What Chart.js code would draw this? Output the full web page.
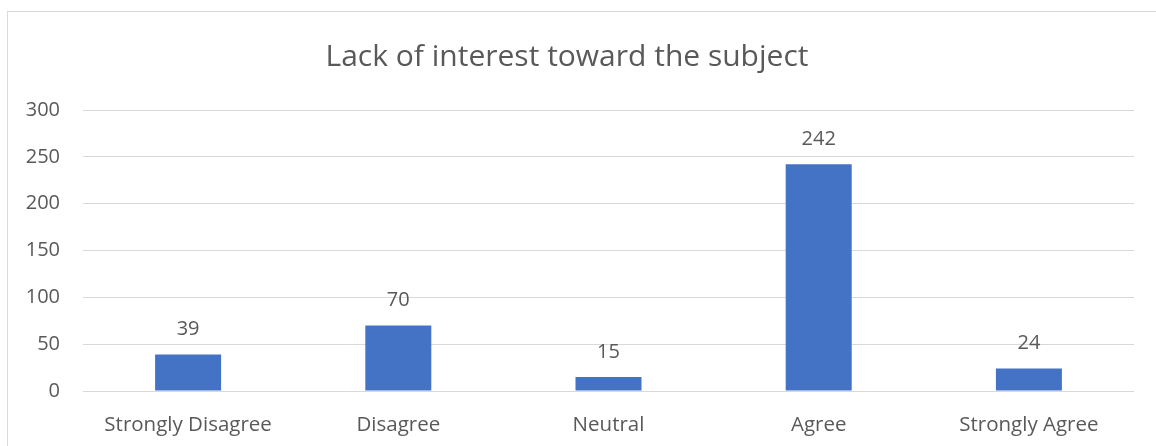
<!DOCTYPE html>
<html>
<head>
<meta charset="utf-8">
<title>Lack of interest toward the subject</title>
<script src="https://cdn.jsdelivr.net/npm/chart.js@4/dist/chart.umd.min.js"></script>
<style>
    html, body { margin: 0; padding: 0; background: #fff; overflow: hidden; }
    #wrap { position: relative; width: 1156px; height: 446px; }
    #frame {
        position: absolute; left: 7px; top: 11px; width: 1200px; height: 500px;
        border-top: 1px solid #d9d9d9; border-left: 1px solid #d9d9d9;
    }
    canvas { position: absolute; left: 0; top: 0; }
</style>
</head>
<body>
<div id="wrap">
    <div id="frame"></div>
    <canvas id="interestChart"></canvas>
</div>
<script>
const categories = ['Strongly Disagree', 'Disagree', 'Neutral', 'Agree', 'Strongly Agree'];
const responses = [39, 70, 15, 242, 24];
const yTicks = [0, 50, 100, 150, 200, 250, 300];

const TEXT_COLOR = '#595959';
const FONT = '"Open Sans", Lato, sans-serif';

// Writes the count above each bar
const valueLabels = {
    id: 'valueLabels',
    afterDatasetsDraw(chart) {
        const ctx = chart.ctx;
        const meta = chart.getDatasetMeta(0);
        ctx.save();
        ctx.font = '20px ' + FONT;
        ctx.fillStyle = TEXT_COLOR;
        ctx.textAlign = 'center';
        ctx.textBaseline = 'middle';
        meta.data.forEach((bar, i) => {
            ctx.fillText(String(responses[i]), bar.x, bar.y - 25);
        });
        ctx.restore();
    }
};

const ctx = document.getElementById('interestChart').getContext('2d');
new Chart(ctx, {
    type: 'bar',
    data: {
        labels: categories,
        datasets: [{
            data: responses,
            backgroundColor: '#4472c4',
            borderWidth: 0,
            categoryPercentage: 1,
            barPercentage: 0.314
        }]
    },
    options: {
        responsive: true,
        maintainAspectRatio: false,
        animation: false,
        layout: { padding: { left: 0, right: 22, top: 0, bottom: 0 } },
        plugins: {
            legend: { display: false },
            tooltip: { enabled: false },
            title: {
                display: true,
                text: 'Lack of interest toward the subject',
                color: TEXT_COLOR,
                font: { family: FONT, size: 30, weight: 'normal', lineHeight: 1.2 },
                padding: { top: 39, bottom: 35 }
            }
        },
        scales: {
            x: {
                grid: { display: false },
                border: { display: false },
                ticks: {
                    color: TEXT_COLOR,
                    font: { family: FONT, size: 20.5 },
                    padding: 14,
                    maxRotation: 0
                },
                afterFit(scale) { scale.height = 55; }
            },
            y: {
                min: 0,
                max: 300,
                afterBuildTicks(scale) {
                    scale.ticks = yTicks.map(v => ({ value: v }));
                },
                grid: { color: '#d9d9d9', lineWidth: 1, drawTicks: false },
                border: { display: false },
                ticks: {
                    color: TEXT_COLOR,
                    font: { family: FONT, size: 20 },
                    padding: 23
                },
                afterFit(scale) { scale.width = 83; }
            }
        }
    },
    plugins: [valueLabels]
});
</script>
</body>
</html>
